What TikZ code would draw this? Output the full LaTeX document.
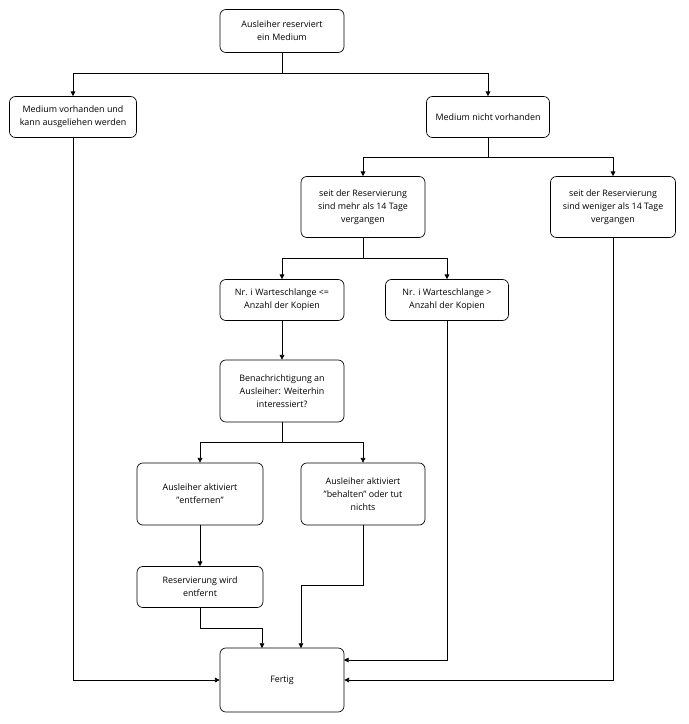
\documentclass[tikz,border=0pt]{standalone}
\usepackage{fontspec}
\setmainfont{Open Sans}
\usetikzlibrary{arrows.meta}
\begin{document}
\begin{tikzpicture}[x=0.03cm,y=-0.03cm,
    box/.style={draw,rounded corners=5pt,align=center,font=\fontsize{7.6}{11}\selectfont,line width=0.6pt},
    pfeil/.style={-{Triangle[length=4pt,width=4pt]},line width=0.5pt}]
  \useasboundingbox (0,0) rectangle (688,724);
  % Knoten
  \node[box,minimum width=124*0.03cm,minimum height=43*0.03cm] (res) at (282,31) {Ausleiher reserviert\\ein Medium};
  \node[box,minimum width=127*0.03cm,minimum height=41*0.03cm] (vorh) at (73,117) {Medium vorhanden und\\kann ausgeliehen werden};
  \node[box,minimum width=123*0.03cm,minimum height=41*0.03cm] (nicht) at (488,117) {Medium nicht vorhanden};
  \node[box,minimum width=124*0.03cm,minimum height=61*0.03cm] (mehr) at (363,207) {seit der Reservierung\\sind mehr als 14 Tage\\vergangen};
  \node[box,minimum width=125*0.03cm,minimum height=61*0.03cm] (weniger) at (613,207) {seit der Reservierung\\sind weniger als 14 Tage\\vergangen};
  \node[box,minimum width=124*0.03cm,minimum height=41*0.03cm] (kleiner) at (282,300) {Nr. i Warteschlange <=\\Anzahl der Kopien};
  \node[box,minimum width=123*0.03cm,minimum height=41*0.03cm] (groesser) at (447,300) {Nr. i Warteschlange >\\Anzahl der Kopien};
  \node[box,minimum width=124*0.03cm,minimum height=62*0.03cm] (benach) at (282,391) {Benachrichtigung an\\Ausleiher: Weiterhin\\interessiert?};
  \node[box,minimum width=126*0.03cm,minimum height=62*0.03cm] (entf) at (200,494) {Ausleiher aktiviert\\"entfernen"};
  \node[box,minimum width=124*0.03cm,minimum height=62*0.03cm] (behalt) at (363,494) {Ausleiher aktiviert\\"behalten" oder tut\\nichts};
  \node[box,minimum width=126*0.03cm,minimum height=41*0.03cm] (wird) at (200,587) {Reservierung wird\\entfernt};
  \node[box,minimum width=124*0.03cm,minimum height=64*0.03cm] (fertig) at (282,680) {Fertig};
  % Verbindungen
  \coordinate (s1) at (282,73);
  \coordinate (s2) at (488,157);
  \coordinate (s3) at (363,258);
  \coordinate (s4) at (282,442);
  \draw[line width=0.5pt] (res) -- (s1);
  \draw[pfeil] (s1) -| (vorh);
  \draw[pfeil] (s1) -| (nicht);
  \draw[line width=0.5pt] (nicht) -- (s2);
  \draw[pfeil] (s2) -| (mehr);
  \draw[pfeil] (s2) -| (weniger);
  \draw[line width=0.5pt] (mehr) -- (s3);
  \draw[pfeil] (s3) -| (kleiner);
  \draw[pfeil] (s3) -| (groesser);
  \draw[pfeil] (kleiner) -- (benach);
  \draw[line width=0.5pt] (benach) -- (s4);
  \draw[pfeil] (s4) -| (entf);
  \draw[pfeil] (s4) -| (behalt);
  \draw[pfeil] (entf) -- (wird);
  \draw[pfeil] (wird.south) |- (262,628) -- (262,648);
  \draw[pfeil] (behalt.south) |- (301,585) -- (301,648);
  \draw[pfeil] (vorh.south) |- (fertig.west);
  \draw[pfeil] (weniger.south) |- (fertig.east);
  \draw[pfeil] (groesser.south) |- (344,660);
\end{tikzpicture}
\end{document}
